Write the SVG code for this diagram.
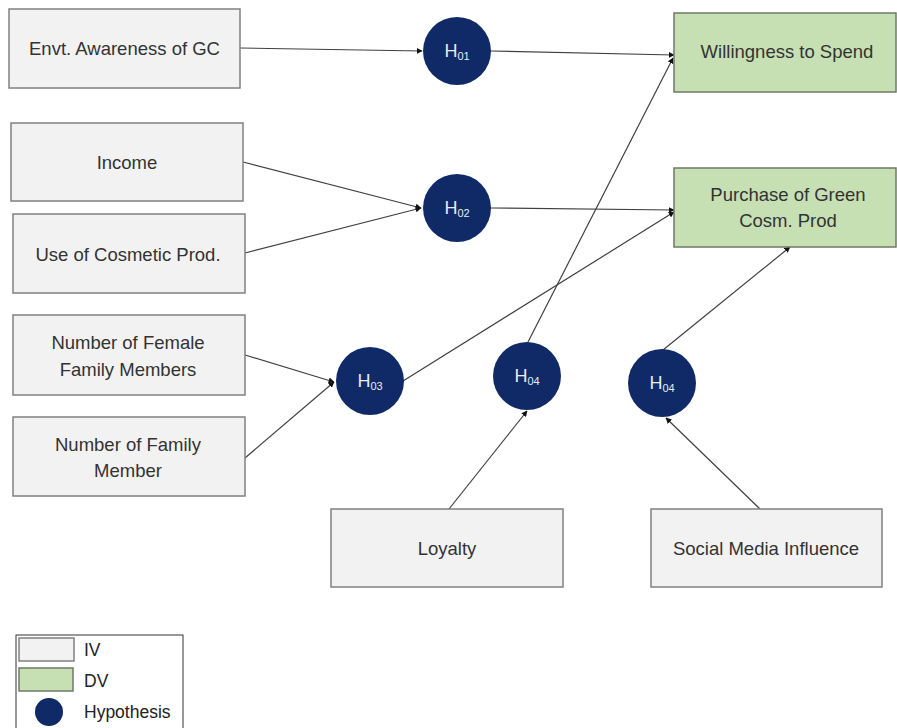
<svg xmlns="http://www.w3.org/2000/svg" width="897" height="728" viewBox="0 0 897 728">
<defs>
<style>
.iv{fill:#f2f2f2;stroke:#808080;stroke-width:1.5}
.dv{fill:#c6e0b4;stroke:#6f7a68;stroke-width:1.5}
.hyp{fill:#0f2a66}
.lbl{font-family:"Liberation Sans",Arial,sans-serif;font-size:18.5px;fill:#333;text-anchor:middle}
.hl{font-family:"Liberation Sans",Arial,sans-serif;font-size:18px;fill:#e8ecf5;text-anchor:middle}
.sub{font-size:11px}
.leg{font-family:"Liberation Sans",Arial,sans-serif;font-size:17.5px;fill:#222}
.cn{stroke:#404040;stroke-width:1.2;fill:none;marker-end:url(#ah)}
</style>
<marker id="ah" viewBox="0 0 10 10" refX="9" refY="5" markerWidth="6" markerHeight="6" orient="auto" markerUnits="userSpaceOnUse">
<path d="M0,0 L10,5 L0,10 z" fill="#111"/>
</marker>
</defs>
<rect width="897" height="728" fill="#fff"/>

<g id="connectors">
<line class="cn" x1="240" y1="48" x2="422" y2="51"/>
<line class="cn" x1="491" y1="51" x2="674" y2="55"/>
<line class="cn" x1="243" y1="162" x2="421" y2="208"/>
<line class="cn" x1="245" y1="253" x2="421" y2="208"/>
<line class="cn" x1="491" y1="208" x2="674" y2="210"/>
<line class="cn" x1="245" y1="355" x2="334" y2="382"/>
<line class="cn" x1="245" y1="458" x2="334" y2="382"/>
<line class="cn" x1="403" y1="381" x2="674" y2="212"/>
<line class="cn" x1="528" y1="342" x2="673" y2="58"/>
<line class="cn" x1="449" y1="509" x2="527" y2="411"/>
<line class="cn" x1="663" y1="350" x2="790" y2="247"/>
<line class="cn" x1="760" y1="509" x2="666" y2="418"/>
</g>

<g id="envt"><rect class="iv" x="9" y="9" width="231" height="79"/><text class="lbl" x="124.5" y="55">Envt. Awareness of GC</text></g>
<g id="income"><rect class="iv" x="11" y="123" width="232" height="78"/><text class="lbl" x="127" y="169">Income</text></g>
<g id="cosmetic"><rect class="iv" x="13" y="214" width="232" height="79"/><text class="lbl" x="128" y="261">Use of Cosmetic Prod.</text></g>
<g id="female"><rect class="iv" x="13" y="315" width="232" height="80"/><text class="lbl" x="128" y="349">Number of Female</text><text class="lbl" x="128" y="376">Family Members</text></g>
<g id="family"><rect class="iv" x="13" y="417" width="232" height="79"/><text class="lbl" x="128" y="451">Number of Family</text><text class="lbl" x="128" y="477">Member</text></g>
<g id="loyalty"><rect class="iv" x="331" y="509" width="232" height="78"/><text class="lbl" x="447" y="555">Loyalty</text></g>
<g id="social"><rect class="iv" x="651" y="509" width="231" height="78"/><text class="lbl" x="766" y="555">Social Media Influence</text></g>

<g id="willingness"><rect class="dv" x="674" y="13" width="222" height="79"/><text class="lbl" x="787" y="58">Willingness to Spend</text></g>
<g id="purchase"><rect class="dv" x="674" y="168" width="222" height="79"/><text class="lbl" x="788" y="201">Purchase of Green</text><text class="lbl" x="788" y="227">Cosm. Prod</text></g>

<g id="h01"><circle class="hyp" cx="457" cy="51" r="34"/><text class="hl" x="457" y="57">H<tspan class="sub" dy="3">01</tspan></text></g>
<g id="h02"><circle class="hyp" cx="457" cy="208" r="34"/><text class="hl" x="457" y="214">H<tspan class="sub" dy="3">02</tspan></text></g>
<g id="h03"><circle class="hyp" cx="370" cy="381" r="34"/><text class="hl" x="370" y="387">H<tspan class="sub" dy="3">03</tspan></text></g>
<g id="h04a"><circle class="hyp" cx="527" cy="376" r="34"/><text class="hl" x="527" y="382">H<tspan class="sub" dy="3">04</tspan></text></g>
<g id="h04b"><circle class="hyp" cx="662" cy="383" r="34"/><text class="hl" x="662" y="389">H<tspan class="sub" dy="3">04</tspan></text></g>

<g id="legend">
<rect x="16" y="635" width="167" height="100" fill="#fff" stroke="#333" stroke-width="1"/>
<rect class="iv" x="19" y="638" width="55" height="23"/>
<text class="leg" x="84" y="656">IV</text>
<rect class="dv" x="19" y="668" width="54" height="23"/>
<text class="leg" x="84" y="687">DV</text>
<circle class="hyp" cx="49" cy="712" r="14"/>
<text class="leg" x="84" y="718">Hypothesis</text>
</g>
</svg>
